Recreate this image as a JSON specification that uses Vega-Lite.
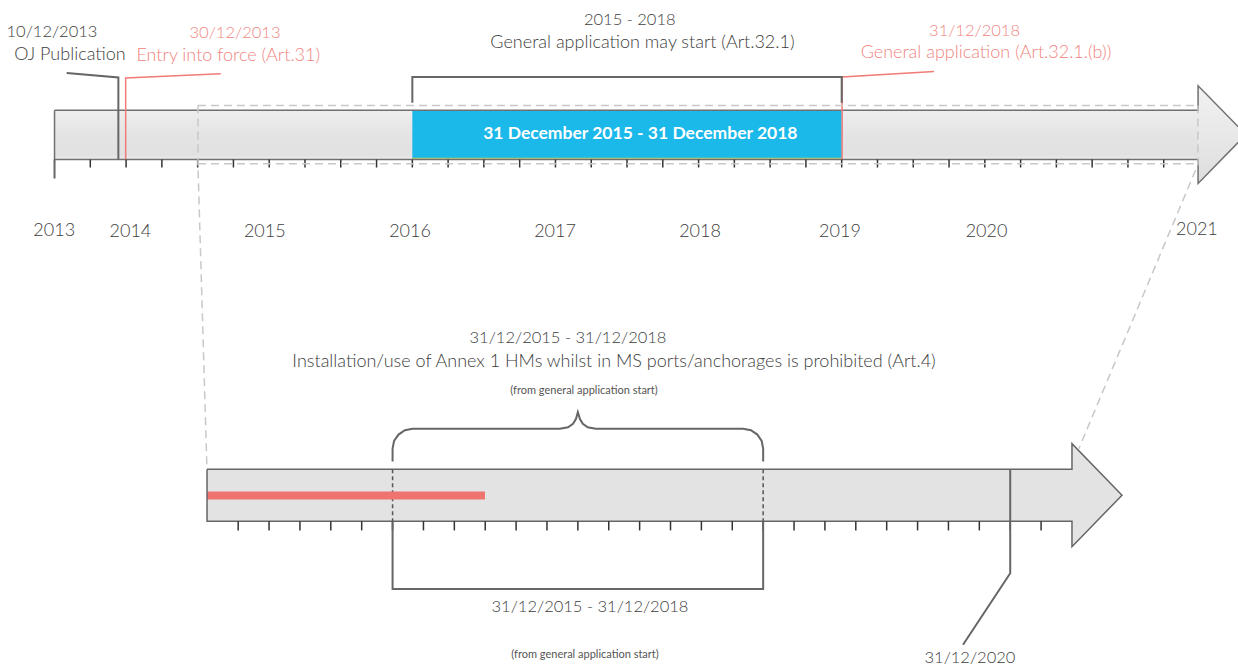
{
  "$schema": "https://vega.github.io/schema/vega-lite/v6.json",
  "width": 1238,
  "height": 667,
  "padding": 0,
  "autosize": {"type": "fit", "contains": "padding"},
  "background": "#ffffff",
  "config": {"view": {"stroke": null}, "axis": {"disable": true}, "legend": {"disable": true}, "text": {"font": "Lato"}},
  "datasets": {
    "topBar": [{"t": 2013.5, "t2": 2021.49, "v": 110.7, "v2": 160}],
    "topHead": [{"t": 2021.49, "v": 86, "v2": 184}, {"t": 2021.824, "v": 135, "v2": 135}],
    "blue": [{"t": 2016, "t2": 2019, "v": 111, "v2": 158.5, "tc": 2017.593, "vc": 134, "label": "31 December 2015 - 31 December 2018"}],
    "topOutline": [
      {"o": 1, "t": 2013.5, "v": 110.7}, {"o": 2, "t": 2021.49, "v": 110.7}, {"o": 3, "t": 2021.49, "v": 86},
      {"o": 4, "t": 2021.824, "v": 135}, {"o": 5, "t": 2021.49, "v": 184}, {"o": 6, "t": 2021.49, "v": 160},
      {"o": 7, "t": 2013.5, "v": 160}, {"o": 8, "t": 2013.5, "v": 110.7}
    ],
    "topGray": [
      {"id": "oj", "o": 1, "t": 2013.585, "v": 73.3}, {"id": "oj", "o": 2, "t": 2013.946, "v": 77.7}, {"id": "oj", "o": 3, "t": 2013.946, "v": 160},
      {"id": "br", "o": 1, "t": 2016, "v": 103}, {"id": "br", "o": 2, "t": 2016, "v": 77.3}, {"id": "br", "o": 3, "t": 2019, "v": 77.3}, {"id": "br", "o": 4, "t": 2019, "v": 103},
      {"id": "start", "o": 1, "t": 2013.5, "v": 160}, {"id": "start", "o": 2, "t": 2013.5, "v": 179}
    ],
    "topRed": [
      {"id": "eif", "o": 1, "t": 2014.661, "v": 74}, {"id": "eif", "o": 2, "t": 2013.997, "v": 78.3}, {"id": "eif", "o": 3, "t": 2013.997, "v": 160},
      {"id": "ga", "o": 1, "t": 2019.645, "v": 71.7}, {"id": "ga", "o": 2, "t": 2019.003, "v": 77.3}, {"id": "ga", "o": 3, "t": 2019.003, "v": 160}
    ],
    "topDashed": [
      {"id": "top", "o": 1, "t": 2014.502, "v": 105.7}, {"id": "top", "o": 2, "t": 2021.489, "v": 105.7},
      {"id": "bot", "o": 1, "t": 2014.502, "v": 164.3}, {"id": "bot", "o": 2, "t": 2021.489, "v": 164.3},
      {"id": "left", "o": 1, "t": 2014.502, "v": 105.7}, {"id": "left", "o": 2, "t": 2014.502, "v": 165}, {"id": "left", "o": 3, "t": 2014.565, "v": 470.7},
      {"id": "right", "o": 1, "t": 2021.489, "v": 105.7}, {"id": "right", "o": 2, "t": 2021.489, "v": 165}, {"id": "right", "o": 3, "t": 2020.657, "v": 450}
    ],
    "topTicks": [
      {"t": 2013.75}, {"t": 2014}, {"t": 2014.25}, {"t": 2014.5}, {"t": 2014.75}, {"t": 2015}, {"t": 2015.25}, {"t": 2015.5},
      {"t": 2015.75}, {"t": 2016}, {"t": 2016.25}, {"t": 2016.5}, {"t": 2016.75}, {"t": 2017}, {"t": 2017.25}, {"t": 2017.5},
      {"t": 2017.75}, {"t": 2018}, {"t": 2018.25}, {"t": 2018.5}, {"t": 2018.75}, {"t": 2019}, {"t": 2019.25}, {"t": 2019.5},
      {"t": 2019.75}, {"t": 2020}, {"t": 2020.25}, {"t": 2020.5}, {"t": 2020.75}, {"t": 2021}, {"t": 2021.25}
    ],
    "topDarkText": [
      {"t": 2013.482, "v": 31.7, "role": "date", "label": "10/12/2013"},
      {"t": 2013.608, "v": 55, "role": "caption", "label": "OJ Publication"},
      {"t": 2017.519, "v": 19.7, "role": "date", "label": "2015 - 2018"},
      {"t": 2017.608, "v": 43.5, "role": "caption", "label": "General application may start (Art.32.1)"}
    ],
    "topRedText": [
      {"t": 2014.761, "v": 33, "role": "date", "label": "30/12/2013"},
      {"t": 2014.714, "v": 55.8, "role": "caption", "label": "Entry into force (Art.31)"},
      {"t": 2019.928, "v": 30.7, "role": "date", "label": "31/12/2018"},
      {"t": 2020.008, "v": 53.3, "role": "caption", "label": "General application (Art.32.1.(b))"}
    ],
    "years": [
      {"t": 2013.498, "v": 232, "label": "2013"}, {"t": 2014.03, "v": 233, "label": "2014"}, {"t": 2014.969, "v": 233, "label": "2015"},
      {"t": 2015.984, "v": 232.5, "label": "2016"}, {"t": 2016.997, "v": 233, "label": "2017"}, {"t": 2018.01, "v": 232.5, "label": "2018"},
      {"t": 2018.988, "v": 233, "label": "2019"}, {"t": 2020.012, "v": 233, "label": "2020"}, {"t": 2021.482, "v": 231, "label": "2021"}
    ],
    "botBar": [{"t": 2014.498, "t2": 2021.5, "v": 470.7, "v2": 522.7}],
    "botHead": [{"t": 2021.5, "v": 445, "v2": 548.3}, {"t": 2021.905, "v": 496.7, "v2": 496.7}],
    "botMarks": [{"t": 2016}, {"t": 2019}],
    "redBar": [{"t": 2014.498, "t2": 2016.748}],
    "botOutline": [
      {"o": 1, "t": 2014.498, "v": 470.7}, {"o": 2, "t": 2021.5, "v": 470.7}, {"o": 3, "t": 2021.5, "v": 445},
      {"o": 4, "t": 2021.905, "v": 496.7}, {"o": 5, "t": 2021.5, "v": 548.3}, {"o": 6, "t": 2021.5, "v": 522.7},
      {"o": 7, "t": 2014.498, "v": 522.7}, {"o": 8, "t": 2014.498, "v": 470.7}
    ],
    "botTicks": [
      {"t": 2014.75}, {"t": 2015}, {"t": 2015.25}, {"t": 2015.5}, {"t": 2015.75}, {"t": 2016}, {"t": 2016.25}, {"t": 2016.5},
      {"t": 2016.75}, {"t": 2017}, {"t": 2017.25}, {"t": 2017.5}, {"t": 2017.75}, {"t": 2018}, {"t": 2018.25}, {"t": 2018.5},
      {"t": 2018.75}, {"t": 2019}, {"t": 2019.25}, {"t": 2019.5}, {"t": 2019.75}, {"t": 2020}, {"t": 2020.25}, {"t": 2020.5},
      {"t": 2020.75}, {"t": 2021}, {"t": 2021.25}
    ],
    "botGray": [
      {"id": "brace", "o": 1, "t": 2016, "v": 463}, {"id": "brace", "o": 2, "t": 2016, "v": 450},
      {"id": "brace", "o": 3, "t": 2016.012, "v": 442.3}, {"id": "brace", "o": 4, "t": 2016.048, "v": 435.9},
      {"id": "brace", "o": 5, "t": 2016.1, "v": 431.5}, {"id": "brace", "o": 6, "t": 2016.162, "v": 430},
      {"id": "brace", "o": 7, "t": 2017.355, "v": 430}, {"id": "brace", "o": 8, "t": 2017.42, "v": 428.5},
      {"id": "brace", "o": 9, "t": 2017.461, "v": 425}, {"id": "brace", "o": 10, "t": 2017.485, "v": 420},
      {"id": "brace", "o": 11, "t": 2017.5, "v": 413.3}, {"id": "brace", "o": 12, "t": 2017.516, "v": 420},
      {"id": "brace", "o": 13, "t": 2017.54, "v": 425}, {"id": "brace", "o": 14, "t": 2017.58, "v": 428.5},
      {"id": "brace", "o": 15, "t": 2017.645, "v": 430}, {"id": "brace", "o": 16, "t": 2018.838, "v": 430},
      {"id": "brace", "o": 17, "t": 2018.901, "v": 431.5}, {"id": "brace", "o": 18, "t": 2018.953, "v": 435.9},
      {"id": "brace", "o": 19, "t": 2018.988, "v": 442.3}, {"id": "brace", "o": 20, "t": 2019, "v": 450},
      {"id": "brace", "o": 21, "t": 2019, "v": 463},
      {"id": "bracket", "o": 1, "t": 2016, "v": 522.7}, {"id": "bracket", "o": 2, "t": 2016, "v": 590.7},
      {"id": "bracket", "o": 3, "t": 2019, "v": 590.7}, {"id": "bracket", "o": 4, "t": 2019, "v": 522.7},
      {"id": "end", "o": 1, "t": 2021, "v": 470.7}, {"id": "end", "o": 2, "t": 2021, "v": 575}, {"id": "end", "o": 3, "t": 2020.618, "v": 646.7}
    ],
    "botDarkText": [
      {"t": 2017.42, "v": 339, "role": "date", "label": "31/12/2015 - 31/12/2018"},
      {"t": 2017.793, "v": 363.5, "role": "caption", "label": "Installation/use of Annex 1 HMs whilst in MS ports/anchorages is prohibited (Art.4)"},
      {"t": 2017.598, "v": 608.5, "role": "date", "label": "31/12/2015 - 31/12/2018"},
      {"t": 2020.674, "v": 660, "role": "date", "label": "31/12/2020"}
    ],
    "botSmallText": [
      {"t": 2017.55, "v": 392, "label": "(from general application start)"},
      {"t": 2017.558, "v": 656.5, "label": "(from general application start)"}
    ]
  },
  "layer": [
    {
      "layer": [
        {
          "data": {"name": "topBar"},
          "mark": {"type": "rect", "color": {"gradient": "linear", "x1": 0, "y1": 0, "x2": 0, "y2": 1, "stops": [{"offset": 0, "color": "#eeeeee"}, {"offset": 0.5, "color": "#e4e4e4"}, {"offset": 0.9, "color": "#e1e1e1"}, {"offset": 1, "color": "#ebebeb"}]}},
          "encoding": {
            "x": {"field": "t", "type": "quantitative", "scale": {"domain": [2013.119, 2021.769], "nice": false, "zero": false}, "axis": null},
            "x2": {"field": "t2"},
            "y": {"field": "v", "type": "quantitative", "scale": {"domain": [0, 667], "reverse": true, "nice": false, "zero": false}, "axis": null},
            "y2": {"field": "v2"}
          }
        },
        {
          "data": {"name": "topHead"},
          "mark": {"type": "area", "orient": "vertical", "clip": true, "color": {"gradient": "linear", "x1": 0, "y1": 0, "x2": 0, "y2": 1, "stops": [{"offset": 0, "color": "#f2f2f2"}, {"offset": 1, "color": "#dedede"}]}},
          "encoding": {
            "x": {"field": "t", "type": "quantitative", "scale": {"domain": [2013.119, 2021.769], "nice": false, "zero": false}, "axis": null},
            "y": {"field": "v", "type": "quantitative", "scale": {"domain": [0, 667], "reverse": true, "nice": false, "zero": false}, "axis": null},
            "y2": {"field": "v2"}
          }
        },
        {
          "data": {"name": "blue"},
          "mark": {"type": "rect", "color": "#1bb8ea"},
          "encoding": {
            "x": {"field": "t", "type": "quantitative", "scale": {"domain": [2013.119, 2021.769], "nice": false, "zero": false}, "axis": null},
            "x2": {"field": "t2"},
            "y": {"field": "v", "type": "quantitative", "scale": {"domain": [0, 667], "reverse": true, "nice": false, "zero": false}, "axis": null},
            "y2": {"field": "v2"}
          }
        },
        {
          "data": {"name": "blue"},
          "mark": {"type": "rule", "color": "#c2cf6c", "strokeWidth": 1.5},
          "encoding": {
            "x": {"field": "t", "type": "quantitative", "scale": {"domain": [2013.119, 2021.769], "nice": false, "zero": false}, "axis": null},
            "x2": {"field": "t2"},
            "y": {"datum": 159, "type": "quantitative", "scale": {"domain": [0, 667], "reverse": true, "nice": false, "zero": false}, "axis": null}
          }
        },
        {
          "data": {"name": "topOutline"},
          "mark": {"type": "line", "color": "#707070", "strokeWidth": 1.5, "clip": true},
          "encoding": {
            "x": {"field": "t", "type": "quantitative", "scale": {"domain": [2013.119, 2021.769], "nice": false, "zero": false}, "axis": null},
            "y": {"field": "v", "type": "quantitative", "scale": {"domain": [0, 667], "reverse": true, "nice": false, "zero": false}, "axis": null},
            "order": {"field": "o", "type": "quantitative"}
          }
        },
        {
          "data": {"name": "topRed"},
          "mark": {"type": "line", "color": "#f07c77", "strokeWidth": 1.5},
          "encoding": {
            "x": {"field": "t", "type": "quantitative", "scale": {"domain": [2013.119, 2021.769], "nice": false, "zero": false}, "axis": null},
            "y": {"field": "v", "type": "quantitative", "scale": {"domain": [0, 667], "reverse": true, "nice": false, "zero": false}, "axis": null},
            "detail": {"field": "id", "type": "nominal"},
            "order": {"field": "o", "type": "quantitative"}
          }
        },
        {
          "data": {"name": "topGray"},
          "mark": {"type": "line", "color": "#666666", "strokeWidth": 2},
          "encoding": {
            "x": {"field": "t", "type": "quantitative", "scale": {"domain": [2013.119, 2021.769], "nice": false, "zero": false}, "axis": null},
            "y": {"field": "v", "type": "quantitative", "scale": {"domain": [0, 667], "reverse": true, "nice": false, "zero": false}, "axis": null},
            "detail": {"field": "id", "type": "nominal"},
            "order": {"field": "o", "type": "quantitative"}
          }
        },
        {
          "data": {"name": "topTicks"},
          "mark": {"type": "rule", "color": "#333333", "strokeWidth": 1.5},
          "encoding": {
            "x": {"field": "t", "type": "quantitative", "scale": {"domain": [2013.119, 2021.769], "nice": false, "zero": false}, "axis": null},
            "y": {"datum": 160, "type": "quantitative", "scale": {"domain": [0, 667], "reverse": true, "nice": false, "zero": false}, "axis": null},
            "y2": {"datum": 168}
          }
        },
        {
          "data": {"name": "topDashed"},
          "mark": {"type": "line", "color": "#c8c8c8", "strokeWidth": 1.5, "strokeDash": [8, 5]},
          "encoding": {
            "x": {"field": "t", "type": "quantitative", "scale": {"domain": [2013.119, 2021.769], "nice": false, "zero": false}, "axis": null},
            "y": {"field": "v", "type": "quantitative", "scale": {"domain": [0, 667], "reverse": true, "nice": false, "zero": false}, "axis": null},
            "detail": {"field": "id", "type": "nominal"},
            "order": {"field": "o", "type": "quantitative"}
          }
        },
        {
          "data": {"name": "blue"},
          "mark": {"type": "text", "color": "#ffffff", "fontSize": 17.5, "fontWeight": "bold", "align": "center", "baseline": "middle"},
          "encoding": {
            "x": {"field": "tc", "type": "quantitative", "scale": {"domain": [2013.119, 2021.769], "nice": false, "zero": false}, "axis": null},
            "y": {"field": "vc", "type": "quantitative", "scale": {"domain": [0, 667], "reverse": true, "nice": false, "zero": false}, "axis": null},
            "text": {"field": "label"}
          }
        },
        {
          "data": {"name": "topDarkText"},
          "mark": {"type": "text", "color": "#3d3d3d", "fontWeight": 300, "align": "center", "baseline": "middle"},
          "encoding": {
            "x": {"field": "t", "type": "quantitative", "scale": {"domain": [2013.119, 2021.769], "nice": false, "zero": false}, "axis": null},
            "y": {"field": "v", "type": "quantitative", "scale": {"domain": [0, 667], "reverse": true, "nice": false, "zero": false}, "axis": null},
            "size": {"field": "role", "type": "nominal", "scale": {"domain": ["date", "caption"], "range": [16.5, 18]}, "legend": null},
            "text": {"field": "label"}
          }
        },
        {
          "data": {"name": "topRedText"},
          "mark": {"type": "text", "color": "#f08580", "fontWeight": 300, "align": "center", "baseline": "middle"},
          "encoding": {
            "x": {"field": "t", "type": "quantitative", "scale": {"domain": [2013.119, 2021.769], "nice": false, "zero": false}, "axis": null},
            "y": {"field": "v", "type": "quantitative", "scale": {"domain": [0, 667], "reverse": true, "nice": false, "zero": false}, "axis": null},
            "size": {"field": "role", "type": "nominal", "scale": {"domain": ["date", "caption"], "range": [16.5, 18]}, "legend": null},
            "text": {"field": "label"}
          }
        },
        {
          "data": {"name": "years"},
          "mark": {"type": "text", "color": "#3d3d3d", "fontSize": 18, "fontWeight": 300, "align": "center", "baseline": "middle"},
          "encoding": {
            "x": {"field": "t", "type": "quantitative", "scale": {"domain": [2013.119, 2021.769], "nice": false, "zero": false}, "axis": null},
            "y": {"field": "v", "type": "quantitative", "scale": {"domain": [0, 667], "reverse": true, "nice": false, "zero": false}, "axis": null},
            "text": {"field": "label"}
          }
        }
      ]
    },
    {
      "layer": [
        {
          "data": {"name": "botBar"},
          "mark": {"type": "rect", "color": "#e3e3e3"},
          "encoding": {
            "x": {"field": "t", "type": "quantitative", "scale": {"domain": [2012.822, 2022.844], "nice": false, "zero": false}, "axis": null},
            "x2": {"field": "t2"},
            "y": {"field": "v", "type": "quantitative", "scale": {"domain": [0, 667], "reverse": true, "nice": false, "zero": false}, "axis": null},
            "y2": {"field": "v2"}
          }
        },
        {
          "data": {"name": "botHead"},
          "mark": {"type": "area", "orient": "vertical", "color": "#e3e3e3"},
          "encoding": {
            "x": {"field": "t", "type": "quantitative", "scale": {"domain": [2012.822, 2022.844], "nice": false, "zero": false}, "axis": null},
            "y": {"field": "v", "type": "quantitative", "scale": {"domain": [0, 667], "reverse": true, "nice": false, "zero": false}, "axis": null},
            "y2": {"field": "v2"}
          }
        },
        {
          "data": {"name": "botMarks"},
          "mark": {"type": "rule", "color": "#555555", "strokeWidth": 1.5, "strokeDash": [4, 3]},
          "encoding": {
            "x": {"field": "t", "type": "quantitative", "scale": {"domain": [2012.822, 2022.844], "nice": false, "zero": false}, "axis": null},
            "y": {"datum": 470.7, "type": "quantitative", "scale": {"domain": [0, 667], "reverse": true, "nice": false, "zero": false}, "axis": null},
            "y2": {"datum": 522.7}
          }
        },
        {
          "data": {"name": "redBar"},
          "mark": {"type": "rule", "color": "#ef7470", "strokeWidth": 8},
          "encoding": {
            "x": {"field": "t", "type": "quantitative", "scale": {"domain": [2012.822, 2022.844], "nice": false, "zero": false}, "axis": null},
            "x2": {"field": "t2"},
            "y": {"datum": 497, "type": "quantitative", "scale": {"domain": [0, 667], "reverse": true, "nice": false, "zero": false}, "axis": null}
          }
        },
        {
          "data": {"name": "botOutline"},
          "mark": {"type": "line", "color": "#666666", "strokeWidth": 1.5},
          "encoding": {
            "x": {"field": "t", "type": "quantitative", "scale": {"domain": [2012.822, 2022.844], "nice": false, "zero": false}, "axis": null},
            "y": {"field": "v", "type": "quantitative", "scale": {"domain": [0, 667], "reverse": true, "nice": false, "zero": false}, "axis": null},
            "order": {"field": "o", "type": "quantitative"}
          }
        },
        {
          "data": {"name": "botTicks"},
          "mark": {"type": "rule", "color": "#333333", "strokeWidth": 1.5},
          "encoding": {
            "x": {"field": "t", "type": "quantitative", "scale": {"domain": [2012.822, 2022.844], "nice": false, "zero": false}, "axis": null},
            "y": {"datum": 522.7, "type": "quantitative", "scale": {"domain": [0, 667], "reverse": true, "nice": false, "zero": false}, "axis": null},
            "y2": {"datum": 532}
          }
        },
        {
          "data": {"name": "botGray"},
          "mark": {"type": "line", "color": "#666666", "strokeWidth": 2},
          "encoding": {
            "x": {"field": "t", "type": "quantitative", "scale": {"domain": [2012.822, 2022.844], "nice": false, "zero": false}, "axis": null},
            "y": {"field": "v", "type": "quantitative", "scale": {"domain": [0, 667], "reverse": true, "nice": false, "zero": false}, "axis": null},
            "detail": {"field": "id", "type": "nominal"},
            "order": {"field": "o", "type": "quantitative"}
          }
        },
        {
          "data": {"name": "botDarkText"},
          "mark": {"type": "text", "color": "#3d3d3d", "fontWeight": 300, "align": "center", "baseline": "middle"},
          "encoding": {
            "x": {"field": "t", "type": "quantitative", "scale": {"domain": [2012.822, 2022.844], "nice": false, "zero": false}, "axis": null},
            "y": {"field": "v", "type": "quantitative", "scale": {"domain": [0, 667], "reverse": true, "nice": false, "zero": false}, "axis": null},
            "size": {"field": "role", "type": "nominal", "scale": {"domain": ["date", "caption"], "range": [16.5, 18]}, "legend": null},
            "text": {"field": "label"}
          }
        },
        {
          "data": {"name": "botSmallText"},
          "mark": {"type": "text", "color": "#555555", "fontSize": 11, "align": "center", "baseline": "middle"},
          "encoding": {
            "x": {"field": "t", "type": "quantitative", "scale": {"domain": [2012.822, 2022.844], "nice": false, "zero": false}, "axis": null},
            "y": {"field": "v", "type": "quantitative", "scale": {"domain": [0, 667], "reverse": true, "nice": false, "zero": false}, "axis": null},
            "text": {"field": "label"}
          }
        }
      ]
    }
  ],
  "resolve": {"scale": {"x": "independent"}}
}
